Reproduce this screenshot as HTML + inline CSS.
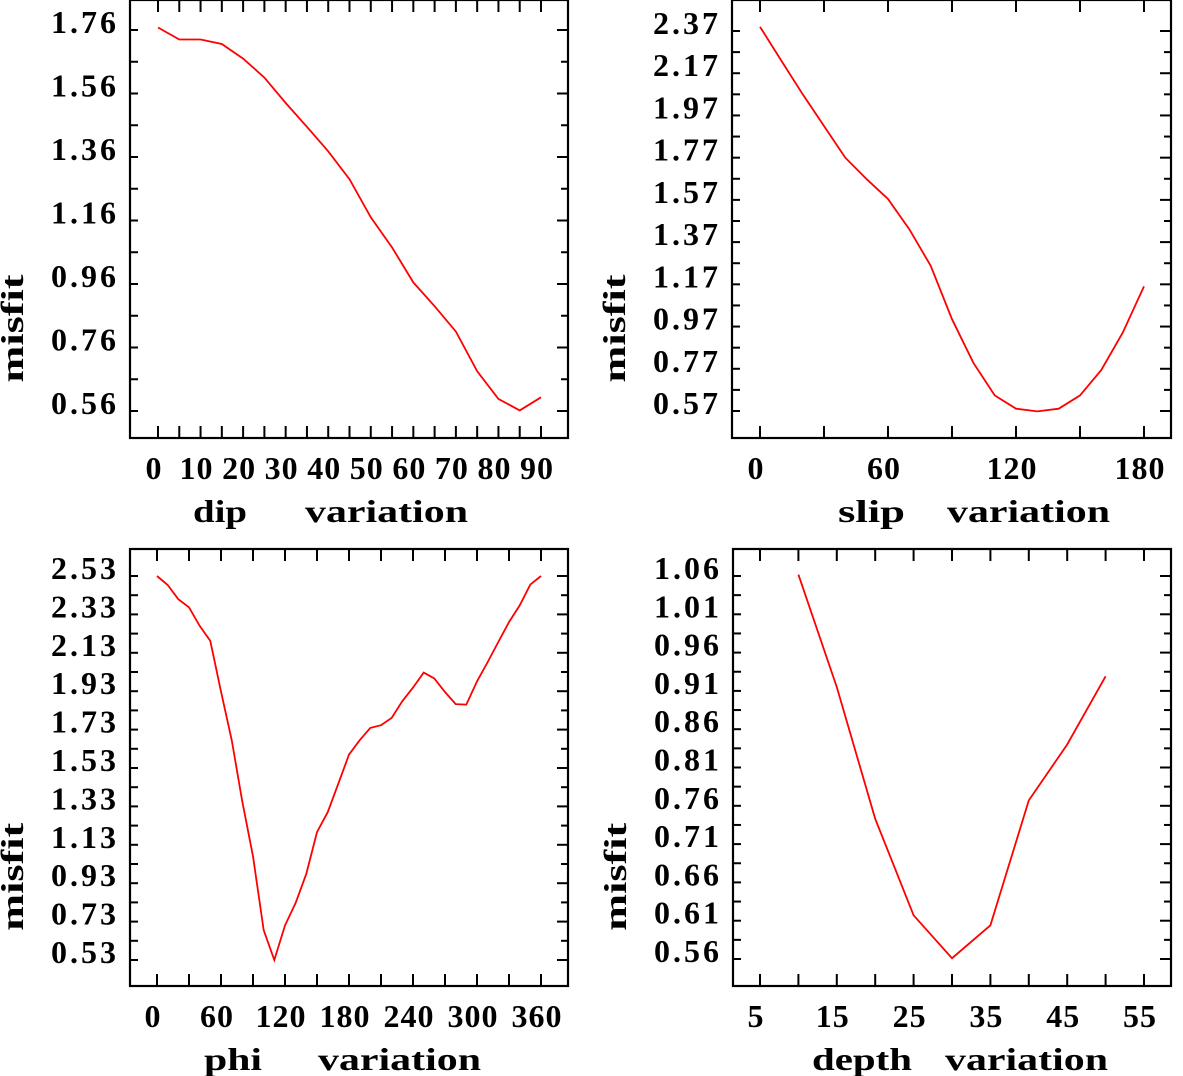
<!DOCTYPE html>
<html><head><meta charset="utf-8"><style>
html,body{margin:0;padding:0;background:#fff;}
svg{display:block;}
text{font-family:"Liberation Serif",serif;font-weight:bold;fill:#000;}
</style></head><body>
<svg id="chart" width="1183" height="1076" viewBox="0 0 1183 1076" xmlns="http://www.w3.org/2000/svg"></svg>
<script>
// ---- data ----
const dipX = [0,5,10,15,20,25,30,35,40,45,50,55,60,65,70,75,80,85,90];
const dipMisfit = [1.768,1.73,1.73,1.716,1.67,1.61,1.53,1.455,1.378,1.29,1.17,1.075,0.965,0.89,0.81,0.685,0.598,0.562,0.603];
const dipXTicks = [0,10,20,30,40,50,60,70,80,90];
const dipYTicks = [1.76,1.56,1.36,1.16,0.96,0.76,0.56];

const slipX = [0,10,20,30,40,50,60,70,80,90,100,110,120,130,140,150,160,170,180];
const slipMisfit = [2.39,2.23,2.07,1.92,1.77,1.668,1.574,1.431,1.258,1.005,0.799,0.644,0.581,0.568,0.581,0.644,0.764,0.941,1.16];
const slipXTicks = [0,60,120,180];
const slipYTicks = [2.37,2.17,1.97,1.77,1.57,1.37,1.17,0.97,0.77,0.57];

const phiX = [0,10,20,30,40,50,60,70,80,90,100,110,120,130,140,150,160,170,180,190,200,210,220,230,240,250,260,270,280,290,300,310,320,330,340,350,360];
const phiMisfit = [2.53,2.483,2.409,2.367,2.27,2.192,1.928,1.676,1.355,1.07,0.685,0.53,0.71,0.828,0.979,1.196,1.30,1.448,1.60,1.675,1.739,1.753,1.791,1.878,1.949,2.027,1.996,1.926,1.863,1.86,1.981,2.082,2.186,2.29,2.377,2.485,2.53];
const phiXTicks = [0,60,120,180,240,300,360];
const phiYTicks = [2.53,2.33,2.13,1.93,1.73,1.53,1.33,1.13,0.93,0.73,0.53];

const depthX = [10,15,20,25,30,35,40,45,50];
const depthMisfit = [1.0618,0.915,0.743,0.617,0.561,0.604,0.767,0.840,0.929];
const depthXTicks = [5,15,25,35,45,55];
const depthYTicks = [1.06,1.01,0.96,0.91,0.86,0.81,0.76,0.71,0.66,0.61,0.56];

const NS = "http://www.w3.org/2000/svg";
const svg = document.getElementById('chart');
function mk(tag, attrs, parent){
  const e = document.createElementNS(NS, tag);
  for (const k in attrs) e.setAttribute(k, attrs[k]);
  (parent||svg).appendChild(e);
  return e;
}

function panel(p){
  const g = mk('g', {});
  
  
  const sx = v => p.x0 + (v - p.xa) / (p.xb - p.xa) * (p.x1 - p.x0);
  const sy = v => p.y0 + (v - p.ya) / (p.yb - p.ya) * (p.y1 - p.y0);
  const fr = mk('rect', {x:p.L, y:p.T, width:p.R-p.L, height:p.B-p.T, fill:'none', stroke:'#000', 'stroke-width':2.2}, g);
  
  
  for (let v = p.xtMin; v <= p.xtMax + 1e-9; v += p.xtStep){
    const x = sx(v);
    mk('line', {x1:x, x2:x, y1:p.B, y2:p.B-12, stroke:'#000', 'stroke-width':2}, g);
    mk('line', {x1:x, x2:x, y1:p.T, y2:p.T+12, stroke:'#000', 'stroke-width':2}, g);
  }
  const lo = Math.min(...p.yLabels), hi = Math.max(...p.yLabels);
  const n = Math.round((hi - lo) / p.ytStep);
  for (let i = 0; i <= n; i++){
    const v = lo + i * p.ytStep;
    const y = sy(v);
    const major = i % 2 === 0;
    mk('line', {x1:p.L, x2:p.L+8, y1:y, y2:y, stroke:'#000', 'stroke-width':2}, g);
    mk('line', {x1:p.R, x2:p.R-(major?11:7), y1:y, y2:y, stroke:'#000', 'stroke-width':2}, g);
  }
  p.yLabels.forEach(v => {
    const t = mk('text', {x:p.L-11, y:sy(v)+3, 'font-size':32, 'text-anchor':'end', 'letter-spacing':3}, g);
    t.textContent = v.toFixed(2);
    
    
  });
  p.xLabels.forEach(v => {
    const t = mk('text', {x:sx(v)-4, y:p.B+41, 'font-size':32, 'text-anchor':'middle', 'letter-spacing':1}, g);
    t.textContent = String(v);
    
    
  });
  const cy = p.T + (p.B - p.T) * 0.75;
  const yt = mk('text', {x:0, y:0, 'font-size':32, 'text-anchor':'middle', textLength:108, lengthAdjust:'spacingAndGlyphs', transform:`translate(${p.L-107},${cy}) rotate(-90)`}, g);
  yt.textContent = 'misfit';
  
  
  const xt1 = mk('text', {x:p.t1x, y:p.B+84, 'font-size':32, textLength:p.t1w, lengthAdjust:'spacingAndGlyphs'}, g);
  xt1.textContent = p.t1;
  
  
  const xt2 = mk('text', {x:p.t2x, y:p.B+84, 'font-size':32, textLength:163, lengthAdjust:'spacingAndGlyphs'}, g);
  xt2.textContent = 'variation';
  
  
  const pts = p.xs.map((x, i) => sx(x).toFixed(1) + ',' + sy(p.ys[i]).toFixed(1)).join(' ');
  const ln = mk('polyline', {points:pts, fill:'none', stroke:'#ff0000', 'stroke-width':1.8}, g);
  
  
}

panel({name:'dip-panel', L:130, R:568, T:0, B:438,
  xa:0, xb:90, x0:158, x1:541, ya:1.76, yb:0.56, y0:30, y1:411,
  xtMin:0, xtMax:90, xtStep:5, ytStep:0.1,
  xLabels:dipXTicks, yLabels:dipYTicks, xs:dipX, ys:dipMisfit,
  t1:'dip', t1x:193, t1w:54, t2x:305});
panel({name:'slip-panel', L:732, R:1171, T:0, B:438,
  xa:0, xb:180, x0:760, x1:1144, ya:2.37, yb:0.57, y0:31, y1:411,
  xtMin:0, xtMax:180, xtStep:30, ytStep:0.1,
  xLabels:slipXTicks, yLabels:slipYTicks, xs:slipX, ys:slipMisfit,
  t1:'slip', t1x:838, t1w:67, t2x:947});
panel({name:'phi-panel', L:130, R:568, T:549, B:986,
  xa:0, xb:360, x0:157, x1:541, ya:2.53, yb:0.53, y0:576, y1:960,
  xtMin:0, xtMax:360, xtStep:30, ytStep:0.1,
  xLabels:phiXTicks, yLabels:phiYTicks, xs:phiX, ys:phiMisfit,
  t1:'phi', t1x:204, t1w:58, t2x:318});
panel({name:'depth-panel', L:733, R:1171, T:549, B:986,
  xa:5, xb:55, x0:760, x1:1144, ya:1.06, yb:0.56, y0:576, y1:959,
  xtMin:5, xtMax:55, xtStep:5, ytStep:0.025,
  xLabels:depthXTicks, yLabels:depthYTicks, xs:depthX, ys:depthMisfit,
  t1:'depth', t1x:812, t1w:100, t2x:945});
</script>
</body></html>
